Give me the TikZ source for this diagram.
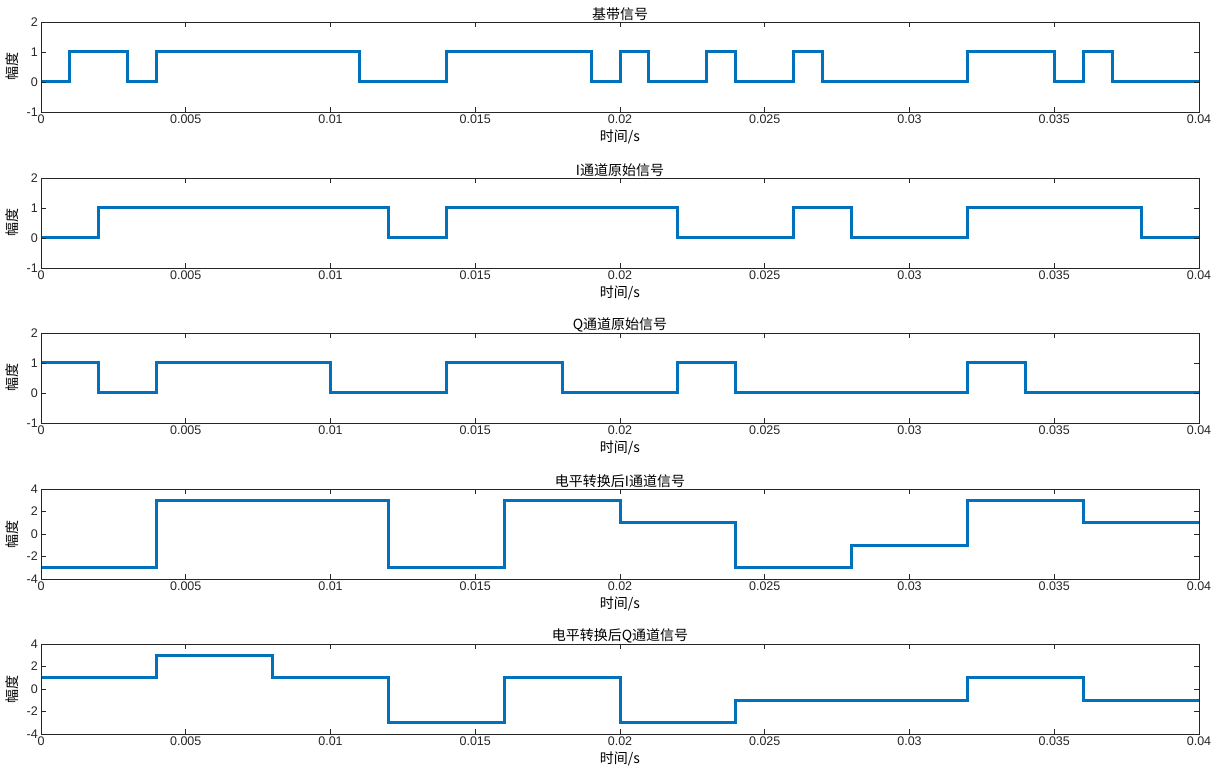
\documentclass[tikz,border=0pt]{standalone}
\usepackage{fontspec}
\setmainfont{Liberation Sans}
\newfontfamily\cjk{Noto Sans CJK SC}
\definecolor{mblue}{RGB}{0,114,189}
\definecolor{axc}{RGB}{38,38,38}
\newcommand\panel[6]{% #1 top px, #2 ymin, #3 ymax, #4 ytick list, #5 title, #6 path
 \begin{scope}[shift={(41pt,{(777-#1-90)*1pt})}]
  \pgfmathsetmacro\ys{90/(#3-#2)}
  \begin{scope}[x=28.95pt,y=\ys pt]
   \begin{scope}[yshift={-(#2)*\ys*1pt}]
    \draw[mblue,line width=3pt] #6;
   \end{scope}
   \draw[axc,line width=0.6pt] (0,0) rectangle (40,{#3-#2});
   \foreach \t/\l in {0/0,5/0.005,10/0.01,15/0.015,20/0.02,25/0.025,30/0.03,35/0.035,40/0.04}{
     \draw[axc,line width=0.6pt] (\t,0) -- ++(0,5pt) (\t,{#3-#2}) -- ++(0,-5pt);
     \node[axc,font=\fontsize{12.5}{14}\selectfont,anchor=north,inner sep=2pt] at (\t,-1pt) {\l};
   }
   \foreach \v in {#4}{
     \draw[axc,line width=0.6pt] (0,{\v-(#2)}) -- ++(5pt,0) (40,{\v-(#2)}) -- ++(-5pt,0);
     \node[axc,font=\fontsize{12.5}{14}\selectfont,anchor=east,inner sep=2pt] at (-1pt,{\v-(#2)}) {\v};
   }
   \node[font=\cjk\fontsize{14}{16}\selectfont,anchor=north,inner sep=1pt] at (20,-17pt) {时间/s};
   \node[font=\cjk\fontsize{14}{16}\selectfont,anchor=south,inner sep=1pt] at (20,{#3-#2}) {#5};
   \node[font=\cjk\fontsize{14}{16}\selectfont,rotate=90] at (-29pt,{(#3-#2)/2}) {幅度};
  \end{scope}
 \end{scope}}
\begin{document}
\begin{tikzpicture}[x=1pt,y=1pt]
\fill[white] (0,0) rectangle (1218,777);
\useasboundingbox (0,0) rectangle (1218,777);
\panel{22}{-1}{2}{-1,0,1,2}{基带信号}{(0,0) -| (1,1) -| (3,0) -| (4,1) -| (11,0) -| (14,1) -| (19,0) -| (20,1) -| (21,0) -| (23,1) -| (24,0) -| (26,1) -| (27,0) -| (32,1) -| (35,0) -| (36,1) -| (37,0) -- (40,0)}
\panel{178}{-1}{2}{-1,0,1,2}{I通道原始信号}{(0,0) -| (2,1) -| (12,0) -| (14,1) -| (22,0) -| (26,1) -| (28,0) -| (32,1) -| (38,0) -- (40,0)}
\panel{333}{-1}{2}{-1,0,1,2}{Q通道原始信号}{(0,1) -| (2,0) -| (4,1) -| (10,0) -| (14,1) -| (18,0) -| (22,1) -| (24,0) -| (32,1) -| (34,0) -- (40,0)}
\panel{489}{-4}{4}{-4,-2,0,2,4}{电平转换后I通道信号}{(0,-3) -| (4,3) -| (12,-3) -| (16,3) -| (20,1) -| (24,-3) -| (28,-1) -| (32,3) -| (36,1) -- (40,1)}
\panel{644}{-4}{4}{-4,-2,0,2,4}{电平转换后Q通道信号}{(0,1) -| (4,3) -| (8,1) -| (12,-3) -| (16,1) -| (20,-3) -| (24,-1) -| (32,1) -| (36,-1) -- (40,-1)}
\end{tikzpicture}
\end{document}
